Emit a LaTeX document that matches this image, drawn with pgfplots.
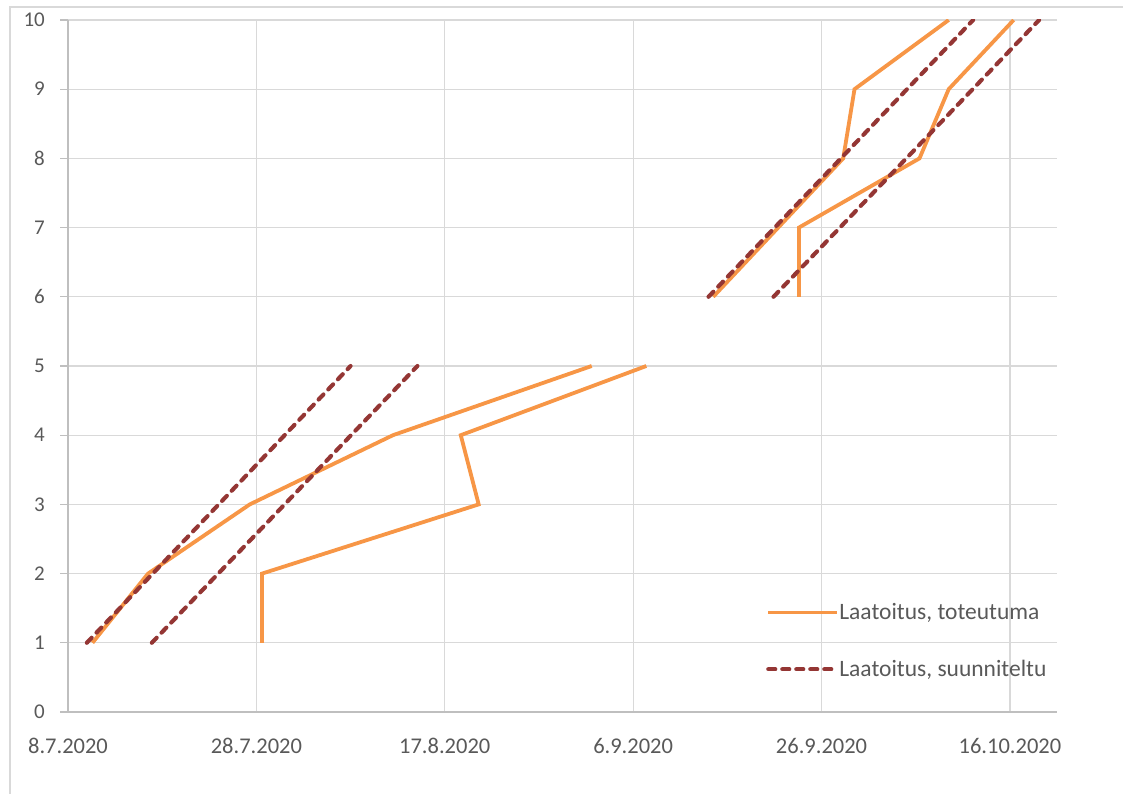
\documentclass[border=0pt]{standalone}
\usepackage{pgfplots}
\pgfplotsset{compat=1.18}
\usepackage{fontspec}
\setmainfont{Carlito}

\definecolor{actual}{RGB}{247,150,70}
\definecolor{planned}{RGB}{148,54,52}
\definecolor{gridgray}{RGB}{217,217,217}
\definecolor{axisgray}{RGB}{191,191,191}
\definecolor{textgray}{RGB}{89,89,89}

% x = days since 8.7.2020
\pgfplotstableread{
x y
2.6 1
8.5 2
19.3 3
34.5 4
55.6 5
}\actualA
\pgfplotstableread{
x y
20.6 1
20.6 2
43.6 3
41.7 4
61.4 5
}\actualB
\pgfplotstableread{
x y
68.5 6
75.4 7
82.3 8
83.5 9
93.5 10
}\actualC
\pgfplotstableread{
x y
77.6 6
77.6 7
90.4 8
93.5 9
100.4 10
}\actualD
\pgfplotstableread{
x y
2.0 1
30.0 5
}\planA
\pgfplotstableread{
x y
8.9 1
37.1 5
}\planB
\pgfplotstableread{
x y
68.0 6
96.1 10
}\planC
\pgfplotstableread{
x y
74.9 6
103.1 10
}\planD

\begin{document}
\begin{tikzpicture}[x=1bp,y=1bp]
\useasboundingbox (-68,-82) rectangle (1055,712);
% chart frame
\draw[gridgray, line width=1.2bp] (-58,-82) -- (-58,705) -- (1055,705);
\begin{axis}[
  at={(0,0)}, anchor=south west,
  scale only axis, width=989bp, height=692bp,
  xmin=0, xmax=105, ymin=0, ymax=10,
  axis lines=left, axis line style={-, axisgray, line width=1.2bp},
  xtick={0,20,40,60,80,100},
  xticklabels={8.7.2020,28.7.2020,17.8.2020,6.9.2020,26.9.2020,16.10.2020},
  ytick={0,1,...,10},
  grid=major, major grid style={gridgray, line width=1.2bp},
  tick align=outside, major tick length=8bp,
  xtick style={draw=none},
  ytick style={axisgray, line width=1.2bp},
  /pgf/number format/assume math mode=true,
  xticklabel style={font=\fontsize{22.5bp}{27bp}\selectfont, text=textgray, inner sep=0pt, anchor=north, yshift=-18bp},
  yticklabel style={font=\fontsize{21bp}{25bp}\selectfont, text=textgray, inner sep=0pt, anchor=east, xshift=-15bp},
  legend cell align=left,
  legend image code/.code={\draw[#1] (0bp,0bp) -- (69bp,0bp);},
  legend style={draw=none, fill=none, at={(rel axis cs:0.7058,0.1026)}, anchor=west,
    font=\fontsize{23.5bp}{28bp}\selectfont, text=textgray,
    inner sep=0pt, row sep=39bp,
    nodes={inner sep=0pt},
    /tikz/every even column/.append style={column sep=7bp}},
]
\addplot[actual, line width=3.8bp] table {\actualA};
\addlegendentry{Laatoitus, toteutuma}
\addplot[actual, line width=3.8bp, forget plot] table {\actualB};
\addplot[actual, line width=3.8bp, forget plot] table {\actualC};
\addplot[actual, line width=3.8bp, forget plot] table {\actualD};
\addplot[planned, line width=4.1bp, line cap=round, dash pattern=on 7bp off 7bp] table {\planA};
\addlegendentry{Laatoitus, suunniteltu}
\addplot[planned, line width=4.1bp, line cap=round, dash pattern=on 7bp off 7bp, forget plot] table {\planB};
\addplot[planned, line width=4.1bp, line cap=round, dash pattern=on 7bp off 7bp, forget plot] table {\planC};
\addplot[planned, line width=4.1bp, line cap=round, dash pattern=on 7bp off 7bp, forget plot] table {\planD};
\end{axis}
\end{tikzpicture}
\end{document}
